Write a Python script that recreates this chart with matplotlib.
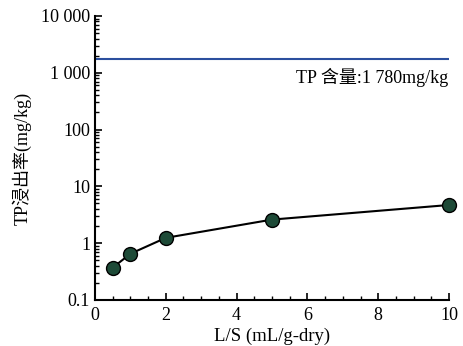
import matplotlib.pyplot as plt
from matplotlib.ticker import FixedLocator, MultipleLocator, LogLocator, NullFormatter

# 데이터
ls_ratio = [0.5, 1, 2, 5, 10]
tp_leach = [0.37, 0.65, 1.24, 2.6, 4.7]
tp_content = 1780
y_ticks = [0.1, 1, 10, 100, 1000, 10000]
y_labels = ["0.1", "1", "10", "100", "1 000", "10 000"]

fonts = ["Liberation Serif", "Noto Sans CJK SC"]
plt.rcParams["font.family"] = fonts

fig = plt.figure(figsize=(4.63, 3.46), dpi=100)
ax = fig.add_axes([0.205, 0.133, 0.765, 0.821])

ax.axhline(tp_content, color="#2b4f9e", lw=1.5)
ax.text(9.97, tp_content * 0.68, "TP 含量:1 780mg/kg", ha="right", va="top", fontsize=13)

ax.plot(ls_ratio, tp_leach, color="black", lw=1.5, marker="o", ms=10, clip_on=False,
        markerfacecolor="#1d4a37", markeredgecolor="black", markeredgewidth=1)

ax.set_yscale("log")
ax.set_ylim(0.1, 10000)
ax.set_xlim(0, 10)
ax.yaxis.set_major_locator(FixedLocator(y_ticks))
ax.set_yticklabels(y_labels)
ax.yaxis.set_minor_locator(LogLocator(base=10, subs=range(2, 10)))
ax.yaxis.set_minor_formatter(NullFormatter())
ax.xaxis.set_major_locator(MultipleLocator(2))
ax.xaxis.set_minor_locator(MultipleLocator(0.5))

for s in ["top", "right"]:
    ax.spines[s].set_visible(False)
ax.spines["left"].set_linewidth(1.5)
ax.spines["bottom"].set_linewidth(1.5)
ax.tick_params(which="both", direction="in", labelsize=13)
ax.tick_params(which="major", length=5, width=1.2)
ax.tick_params(which="minor", length=3, width=1)
ax.tick_params(axis="x", pad=5)

ax.set_xlabel("L/S (mL/g-dry)", fontsize=13.5, labelpad=3)
ax.set_ylabel("TP浸出率(mg/kg)", fontsize=13, labelpad=7)

fig.savefig("out.png", dpi=100)
